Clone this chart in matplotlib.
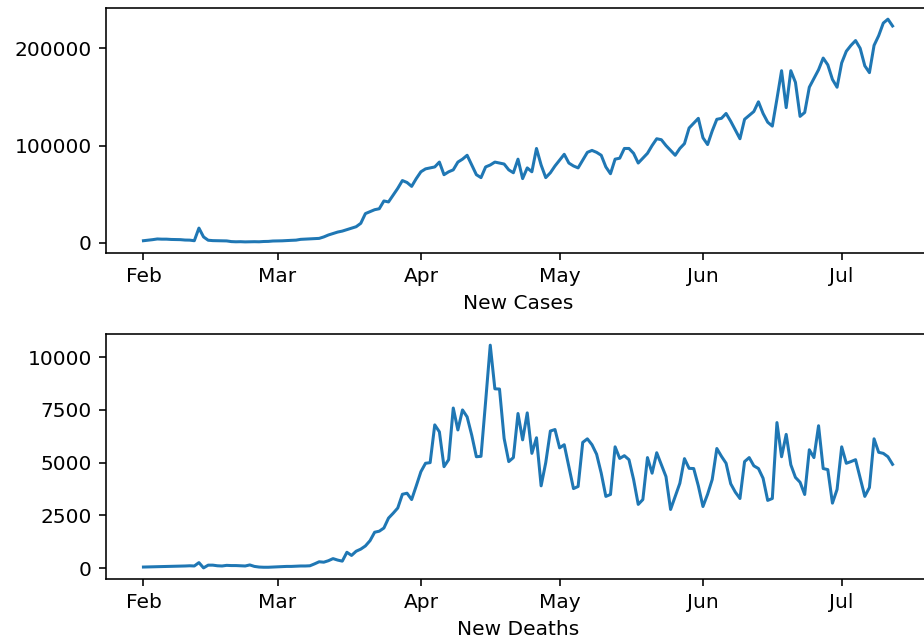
import pandas as pd
import matplotlib
matplotlib.use('Agg')
import matplotlib.pyplot as plt
import matplotlib.dates as mdates
from matplotlib.ticker import MultipleLocator

start_date = '2020-02-01'
end_date = '2020-07-12'

new_cases = [
    # Feb
    2100, 2600, 3200, 3900, 3700, 3700, 3400, 3300, 3200, 2800,
    2700, 2100, 15100, 6000, 2600, 2200, 2100, 2000, 1900, 1200,
    1000, 1100, 900, 1000, 1100, 1000, 1300, 1400, 1800,
    # Mar
    1900, 2000, 2300, 2500, 2700, 3500, 3800, 4000, 4200, 4500,
    6000, 8000, 9500, 11000, 12000, 13500, 15000, 16500, 20000, 30000,
    32000, 34000, 35000, 43000, 42000, 49000, 56000, 64000, 62000, 58000,
    66000,
    # Apr
    73000, 76000, 77000, 78000, 83000, 70000, 73000, 75000, 83000, 86000,
    90000, 80000, 70000, 67000, 78000, 80000, 83000, 82000, 81000, 75000,
    72000, 86000, 66000, 77000, 73000, 97000, 80000, 67000, 72000, 79000,
    # May
    85000, 91000, 82000, 79000, 77000, 85000, 93000, 95000, 93000, 90000,
    78000, 71000, 86000, 87000, 97000, 97000, 92000, 82000, 87000, 92000,
    100000, 107000, 106000, 100000, 95000, 90000, 97000, 102000, 118000, 123000,
    128000,
    # Jun
    108000, 101000, 115000, 127000, 128000, 133000, 125000, 116000, 107000, 127000,
    131000, 135000, 145000, 133000, 124000, 120000, 148000, 177000, 139000, 177000,
    165000, 130000, 134000, 160000, 169000, 178000, 190000, 183000, 168000, 160000,
    # Jul
    185000, 197000, 203000, 208000, 200000, 182000, 175000, 203000, 213000, 226000,
    230000, 223000,
]

new_deaths = [
    # Feb
    50, 55, 60, 65, 70, 75, 80, 85, 90, 100,
    110, 100, 260, 10, 140, 140, 110, 100, 130, 120,
    120, 110, 100, 150, 80, 50, 40, 40, 50,
    # Mar
    60, 70, 80, 80, 90, 100, 100, 110, 200, 300,
    280, 350, 450, 380, 330, 750, 600, 800, 900, 1050,
    1300, 1700, 1750, 1900, 2370, 2600, 2850, 3500, 3550, 3250,
    3900,
    # Apr
    4570, 4970, 5000, 6790, 6460, 4810, 5140, 7590, 6550, 7500,
    7170, 6300, 5280, 5300, 7900, 10570, 8500, 8490, 6150, 5050,
    5240, 7330, 6080, 7360, 5440, 6180, 3900, 5000, 6500, 6570,
    # May
    5700, 5850, 4800, 3770, 3870, 5960, 6130, 5850, 5400, 4500,
    3400, 3490, 5750, 5200, 5330, 5140, 4200, 3020, 3250, 5240,
    4500, 5470, 4900, 4340, 2780, 3400, 4020, 5190, 4730, 4720,
    3900,
    # Jun
    2920, 3500, 4200, 5670, 5300, 4970, 4000, 3600, 3300, 5050,
    5240, 4850, 4720, 4260, 3210, 3300, 6900, 5280, 6340, 4900,
    4300, 4070, 3490, 5610, 5240, 6750, 4720, 4670, 3080, 3730,
    # Jul
    5750, 4970, 5050, 5140, 4260, 3400, 3820, 6130, 5490, 5440,
    5280, 4920,
]


def plot():
    dates = pd.date_range(start_date, end_date, freq='D')

    fig = plt.figure(figsize=(924 / 145, 643 / 145), dpi=145)
    ax1 = fig.add_axes([0.1147, 0.6065, 0.8918, 0.381])
    ax2 = fig.add_axes([0.1147, 0.0995, 0.8918, 0.381])

    ax1.plot(dates, new_cases)
    ax1.set_xlabel('New Cases')
    ax1.yaxis.set_major_locator(MultipleLocator(100000))

    ax2.plot(dates, new_deaths)
    ax2.set_xlabel('New Deaths')
    ax2.yaxis.set_major_locator(MultipleLocator(2500))

    for ax in (ax1, ax2):
        ax.xaxis.set_major_locator(mdates.MonthLocator())
        ax.xaxis.set_major_formatter(mdates.DateFormatter('%b'))

    fig.savefig('out.png', dpi=145)


if __name__ == '__main__':
    plot()
